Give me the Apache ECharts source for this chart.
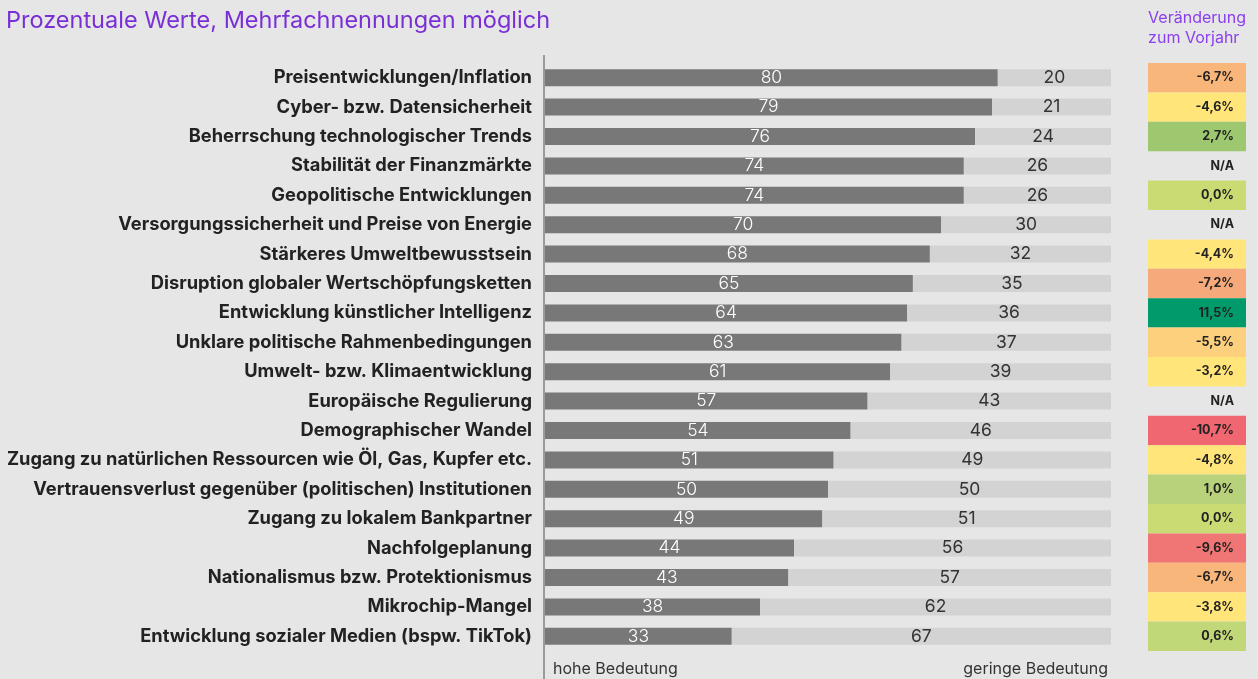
<!DOCTYPE html>
<html>
<head>
<meta charset="utf-8">
<script src="https://cdn.jsdelivr.net/npm/echarts@6/dist/echarts.min.js"></script>
<style>
  html, body { margin: 0; padding: 0; background: #e6e6e6; }
  #chart { width: 1258px; height: 679px; }
</style>
</head>
<body>
<div id="chart"></div>
<script>
const categories = [
  'Preisentwicklungen/Inflation',
  'Cyber- bzw. Datensicherheit',
  'Beherrschung technologischer Trends',
  'Stabilität der Finanzmärkte',
  'Geopolitische Entwicklungen',
  'Versorgungssicherheit und Preise von Energie',
  'Stärkeres Umweltbewusstsein',
  'Disruption globaler Wertschöpfungsketten',
  'Entwicklung künstlicher Intelligenz',
  'Unklare politische Rahmenbedingungen',
  'Umwelt- bzw. Klimaentwicklung',
  'Europäische Regulierung',
  'Demographischer Wandel',
  'Zugang zu natürlichen Ressourcen wie Öl, Gas, Kupfer etc.',
  'Vertrauensverlust gegenüber (politischen) Institutionen',
  'Zugang zu lokalem Bankpartner',
  'Nachfolgeplanung',
  'Nationalismus bzw. Protektionismus',
  'Mikrochip-Mangel',
  'Entwicklung sozialer Medien (bspw. TikTok)'
]
const hohe = [80, 79, 76, 74, 74, 70, 68, 65, 64, 63, 61, 57, 54, 51, 50, 49, 44, 43, 38, 33]
const geringe = [20, 21, 24, 26, 26, 30, 32, 35, 36, 37, 39, 43, 46, 49, 50, 51, 56, 57, 62, 67]
// null = N/A
const veraenderung = [-6.7, -4.6, 2.7, null, 0.0, null, -4.4, -7.2, 11.5, -5.5, -3.2, null, -10.7, -4.8, 1.0, 0.0, -9.6, -6.7, -3.8, 0.6]

// Farbskala für die Veränderung
function colorFor(v) {
  if (v === null) return 'rgba(0,0,0,0)'
  if (v <= -10) return '#f06671'
  if (v <= -9) return '#f07575'
  if (v <= -7) return '#f6a97a'
  if (v <= -6) return '#f8b67a'
  if (v <= -5) return '#fdd07e'
  if (v < 0) return '#ffe57a'
  if (v < 0.5) return '#cadb74'
  if (v < 0.8) return '#c1d878'
  if (v < 2) return '#b7d27a'
  if (v < 5) return '#9ec870'
  return '#009a6b'
}

const fmt = v => (v === null ? 'N/A' : v.toFixed(1).replace('.', ',') + '%')

const chart = echarts.init(document.getElementById('chart'))

const option = {
  backgroundColor: '#e6e6e6',
  animation: false,
  title: [
    {
      text: 'Prozentuale Werte, Mehrfachnennungen möglich',
      left: 1, top: 4,
      textStyle: { color: '#7a2fd6', fontSize: 23.5, fontWeight: 'normal', fontFamily: 'Inter' }
    },
    {
      text: 'Veränderung\nzum Vorjahr',
      right: 7, top: 3,
      textStyle: { color: '#8a40ee', fontSize: 16, fontWeight: 'normal', lineHeight: 20, fontFamily: 'Inter', align: 'right' }
    }
  ],
  grid: [
    { left: 545, right: 147, top: 63, height: 588 },
    { left: 1148, width: 98, top: 63, height: 588 }
  ],
  xAxis: [
    { gridIndex: 0, type: 'value', min: 0, max: 100, show: false },
    { gridIndex: 1, type: 'value', min: 0, max: 1, show: false }
  ],
  yAxis: [
    {
      gridIndex: 0, type: 'category', data: categories, inverse: true,
      axisLine: { show: false }, axisTick: { show: false },
      axisLabel: { color: '#222', fontSize: 18.3, fontWeight: 'bold', fontFamily: 'Inter', margin: 13 }
    },
    {
      gridIndex: 1, type: 'category', data: categories, inverse: true, show: false
    }
  ],
  series: [
    {
      type: 'bar', stack: 'a', data: hohe, barWidth: 17,
      itemStyle: { color: '#787878' },
      label: { show: true, position: 'inside', color: '#fff', fontSize: 17.5, fontWeight: 300, fontFamily: 'Inter' }
    },
    {
      type: 'bar', stack: 'a', data: geringe, barWidth: 17,
      itemStyle: { color: '#d3d3d3' },
      label: { show: true, position: 'inside', color: '#333', fontSize: 17.5, fontFamily: 'Inter' }
    },
    {
      type: 'bar', xAxisIndex: 1, yAxisIndex: 1, barCategoryGap: 0,
      data: veraenderung.map(v => ({ value: 1, change: v, itemStyle: { color: colorFor(v) } })),
      label: {
        show: true, position: 'insideRight', distance: 12,
        color: '#222', fontSize: 12.5, fontWeight: 'bold', fontFamily: 'Inter',
        formatter: p => fmt(p.data.change)
      }
    }
  ],
  graphic: [
    {
      type: 'line', shape: { x1: 544, y1: 55, x2: 544, y2: 679 },
      style: { stroke: '#9a9a9a', lineWidth: 2 }
    },
    {
      type: 'text', left: 553, top: 661,
      style: { text: 'hohe Bedeutung', fill: '#333', fontSize: 16, fontFamily: 'Inter' }
    },
    {
      type: 'text', right: 150, top: 661,
      style: { text: 'geringe Bedeutung', fill: '#333', fontSize: 16, fontFamily: 'Inter' }
    }
  ]
}

chart.setOption(option)
</script>
</body>
</html>
